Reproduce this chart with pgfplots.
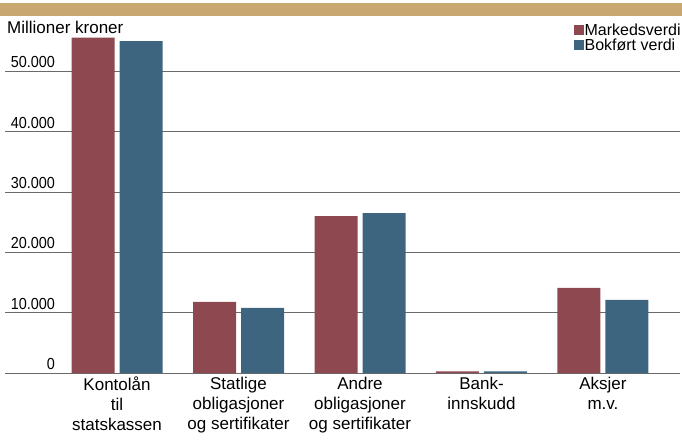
\documentclass[border=0pt]{standalone}
\usepackage{fontspec}
\setmainfont{Liberation Sans}
\newfontfamily\tickfont{Liberation Sans}[FakeStretch=0.9]
\usepackage{pgfplots}
\pgfplotsset{compat=1.18}

\definecolor{markred}{HTML}{8E4850}
\definecolor{bokblue}{HTML}{3D6580}
\definecolor{band}{HTML}{C8A870}
\definecolor{gridgrey}{HTML}{6A6A6A}

\begin{document}
\begin{tikzpicture}
\begin{axis}[
    scale only axis,
    width=675pt, height=356pt,
    ybar=5pt, bar width=43pt,
    xmin=-0.922, xmax=4.634,
    ymin=0, ymax=59000,
    axis line style={draw=none},
    major tick length=0pt,
    ymajorgrids=true,
    major grid style={gridgrey, line width=0.9pt},
    scaled y ticks=false,
    ytick={0,10000,20000,30000,40000,50000},
    yticklabels={0,10.000,20.000,30.000,40.000,50.000},
    yticklabel style={anchor=south east, inner sep=0pt, xshift=50pt, yshift=3pt,
        font=\tickfont\fontsize{16}{18}\selectfont},
    xtick=data,
    xticklabels={Kontolån\\til\\statskassen,
                 Statlige\\obligasjoner\\og sertifikater,
                 Andre\\obligasjoner\\og sertifikater,
                 Bank-\\innskudd,
                 Aksjer\\m.v.},
    xticklabel style={align=center, anchor=north, inner sep=0pt, yshift=-4pt,
        font=\fontsize{17}{20}\selectfont},
    /pgf/number format/assume math mode=true,
    legend style={at={(1.002,0.982)}, anchor=north east, draw=none, fill=none,
        inner sep=0pt, row sep=1pt, legend cell align=left,
        nodes={inner sep=0.5pt},
        font=\fontsize{16}{18}\selectfont,
        /tikz/every even column/.append style={column sep=1.5pt}},
    legend image code/.code={\fill[#1,draw=none] (0pt,-4pt) rectangle (10pt,6pt);},
]
\addplot[fill=markred, draw=none] coordinates {
    (0,55600) (1,11800) (2,26000) (3,250) (4,14100)
};
\addlegendentry{Markedsverdi}
\addplot[fill=bokblue, draw=none] coordinates {
    (0,55000) (1,10800) (2,26500) (3,250) (4,12100)
};
\addlegendentry{Bokført verdi}
\coordinate (O) at (rel axis cs:0,0);
\end{axis}
% decoration band and unit label, placed from the axis corner (5,69 in a 682x442 frame)
\fill[band] ([shift={(-5pt,357pt)}]O) rectangle ([shift={(677pt,370pt)}]O);
\node[anchor=west, inner sep=0pt, font=\fontsize{17}{20}\selectfont]
    at ([shift={(2pt,346pt)}]O) {Millioner kroner};
\pgfresetboundingbox
\path[use as bounding box] ([shift={(-5pt,-69pt)}]O) rectangle ([shift={(677pt,373pt)}]O);
\end{tikzpicture}
\end{document}
